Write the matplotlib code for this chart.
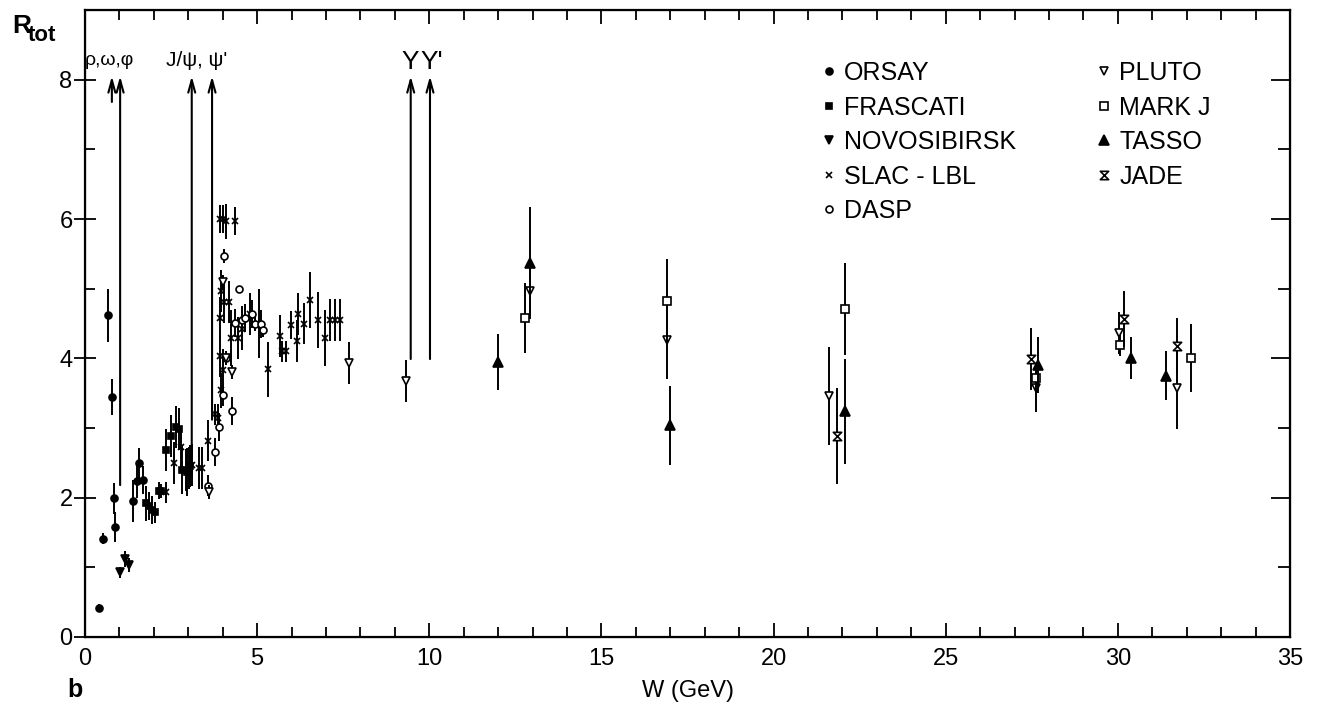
import matplotlib
matplotlib.use("Agg")
import matplotlib.pyplot as plt
from matplotlib import font_manager
from matplotlib.lines import Line2D
from matplotlib.path import Path
from matplotlib.ticker import MultipleLocator

installed = {f.name for f in font_manager.fontManager.ttflist}
plt.rcParams['font.family'] = [f for f in ['Liberation Sans', 'DejaVu Sans'] if f in installed]

# --- data: W (GeV), R, symmetric error ---
orsay_w = [0.41, 0.52, 0.66, 0.79, 0.84, 0.86, 1.38, 1.50, 1.56, 1.67]
orsay_r = [0.42, 1.41, 4.62, 3.44, 1.99, 1.58, 1.95, 2.24, 2.50, 2.25]
orsay_e = [0.05, 0.08, 0.38, 0.26, 0.22, 0.22, 0.30, 0.25, 0.22, 0.20]

frascati_w = [1.76, 1.87, 1.95, 2.03, 2.14, 2.22, 2.34, 2.51, 2.63, 2.72, 2.82, 2.96, 3.06]
frascati_r = [1.92, 1.88, 1.82, 1.79, 2.10, 2.10, 2.68, 2.88, 3.02, 2.99, 2.40, 2.37, 2.45]
frascati_e = [0.25, 0.20, 0.20, 0.15, 0.12, 0.10, 0.30, 0.30, 0.30, 0.30, 0.35, 0.35, 0.30]

novo_w = [1.03, 1.16, 1.29]
novo_r = [0.93, 1.12, 1.04]
novo_e = [0.08, 0.12, 0.10]

slac_w = [2.34, 2.58, 2.80, 2.92, 3.01, 3.11, 3.30, 3.40, 3.57, 3.79, 3.85,
          3.91, 4.00, 4.10, 4.36, 3.91, 3.96, 4.03, 4.17, 3.93, 4.00, 3.96,
          4.25, 4.44, 4.56, 4.80, 5.05, 5.31, 5.65, 5.72, 5.83, 5.98, 6.15,
          6.20, 6.37, 6.53, 6.76, 6.97, 7.11, 7.26, 7.40]
slac_r = [2.08, 2.50, 2.73, 2.40, 2.43, 2.47, 2.43, 2.43, 2.82, 3.20, 3.15,
          6.00, 6.00, 5.97, 5.97, 4.58, 4.97, 4.81, 4.81, 4.03, 3.83, 3.54,
          4.29, 4.29, 4.42, 4.64, 4.50, 3.84, 4.32, 4.10, 4.10, 4.48, 4.25,
          4.64, 4.50, 4.84, 4.55, 4.29, 4.55, 4.55, 4.55]
slac_e = [0.15, 0.30, 0.30, 0.30, 0.30, 0.30, 0.30, 0.30, 0.30, 0.15, 0.20,
          0.20, 0.20, 0.25, 0.20, 0.30, 0.30, 0.30, 0.30, 0.30, 0.30, 0.25,
          0.40, 0.30, 0.30, 0.30, 0.50, 0.40, 0.30, 0.15, 0.15, 0.20, 0.30,
          0.30, 0.30, 0.40, 0.40, 0.40, 0.30, 0.30, 0.30]

dasp_w = [3.57, 3.78, 3.90, 4.00, 4.03, 4.10, 4.27, 4.46, 4.36, 4.55, 4.66,
          4.85, 4.95, 5.10, 5.18]
dasp_r = [2.17, 2.66, 3.02, 3.47, 5.47, 4.00, 3.25, 5.00, 4.51, 4.55, 4.58,
          4.64, 4.49, 4.49, 4.40]
dasp_e = [0.15, 0.20, 0.20, 0.15, 0.10, 0.10, 0.20, 0.00, 0.20, 0.20, 0.20,
          0.20, 0.10, 0.20, 0.10]

pluto_w = [3.59, 4.00, 4.10, 4.27, 7.66, 9.32, 12.93, 16.91, 21.62, 27.61, 30.03, 31.73]
pluto_r = [2.08, 5.10, 4.00, 3.81, 3.93, 3.67, 4.96, 4.26, 3.46, 3.58, 4.36, 3.58]
pluto_e = [0.10, 0.10, 0.10, 0.10, 0.30, 0.30, 0.35, 0.55, 0.70, 0.35, 0.30, 0.60]

markj_w = [12.78, 16.91, 22.06, 27.63, 30.05, 32.12]
markj_r = [4.58, 4.83, 4.71, 3.72, 4.19, 4.01]
markj_e = [0.50, 0.60, 0.66, 0.20, 0.15, 0.49]

tasso_w = [12.00, 12.92, 16.99, 22.06, 27.68, 30.39, 31.41]
tasso_r = [3.95, 5.37, 3.04, 3.24, 3.90, 4.00, 3.75]
tasso_e = [0.40, 0.80, 0.57, 0.75, 0.40, 0.30, 0.35]

jade_w = [21.85, 27.47, 30.17, 31.73]
jade_r = [2.89, 3.99, 4.56, 4.18]
jade_e = [0.69, 0.45, 0.40, 0.40]

# resonance arrows: position, lower end of arrow
res_w = [0.78, 1.02, 3.10, 3.69, 9.46, 10.02]
res_low = [7.68, 2.18, 2.30, 3.12, 3.99, 3.99]
res_tip = 8.05

hourglass = Path([(-1, 1), (1, 1), (-1, -1), (1, -1), (-1, 1)],
                 [Path.MOVETO, Path.LINETO, Path.LINETO, Path.LINETO, Path.CLOSEPOLY])

series = [
    ('ORSAY', orsay_w, orsay_r, orsay_e, 'o', 'black', 5),
    ('FRASCATI', frascati_w, frascati_r, frascati_e, 's', 'black', 5),
    ('NOVOSIBIRSK', novo_w, novo_r, novo_e, 'v', 'black', 6),
    ('SLAC - LBL', slac_w, slac_r, slac_e, 'x', 'black', 5),
    ('DASP', dasp_w, dasp_r, dasp_e, 'o', 'white', 5),
    ('PLUTO', pluto_w, pluto_r, pluto_e, 'v', 'white', 6),
    ('MARK J', markj_w, markj_r, markj_e, 's', 'white', 5.5),
    ('TASSO', tasso_w, tasso_r, tasso_e, '^', 'black', 6.5),
    ('JADE', jade_w, jade_r, jade_e, hourglass, 'white', 6),
]

fig = plt.figure(figsize=(13.2, 7.11), dpi=100)
ax = fig.add_axes([0.0644, 0.1041, 0.9129, 0.8818])

handles = []
for name, w, r, e, mk, fc, ms in series:
    ax.errorbar(w, r, yerr=e, fmt='none', ecolor='black', elinewidth=1.4, capsize=0)
    ax.plot(w, r, linestyle='none', marker=mk, ms=ms, mfc=fc, mec='black', mew=1.2)
    handles.append(Line2D([], [], linestyle='none', marker=mk, ms=ms, mfc=fc,
                          mec='black', mew=1.2, label=name))

for w, lo in zip(res_w, res_low):
    ax.annotate('', xy=(w, res_tip), xytext=(w, lo),
                arrowprops=dict(arrowstyle='->,head_length=0.9,head_width=0.25',
                                lw=1.5, color='black', shrinkA=0, shrinkB=0))

ax.text(0.72, 8.28, 'ρ,ω,φ', ha='center', va='center', fontsize=14)
ax.text(3.23, 8.28, "J/ψ, ψ'", ha='center', va='center', fontsize=15)
ax.text(9.46, 8.26, 'Υ', ha='center', va='center', fontsize=19)
ax.text(10.07, 8.26, "Υ'", ha='center', va='center', fontsize=19)

ax.set_xlim(0, 35)
ax.set_ylim(0, 9.0)
ax.xaxis.set_major_locator(MultipleLocator(5))
ax.xaxis.set_minor_locator(MultipleLocator(1))
ax.yaxis.set_major_locator(MultipleLocator(2))
ax.yaxis.set_minor_locator(MultipleLocator(1))
ax.tick_params(axis='x', which='both', direction='in', top=True, labelsize=17, pad=8, width=1.3)
ax.tick_params(axis='x', which='major', length=10)
ax.tick_params(axis='x', which='minor', length=7)
ax.tick_params(axis='y', which='major', direction='inout', length=16, labelsize=17, pad=1, width=1.3)
ax.tick_params(axis='y', which='minor', direction='in', length=7, width=1.3)
for s in ax.spines.values():
    s.set_linewidth(1.6)

ax2 = ax.twinx()
ax2.set_ylim(ax.get_ylim())
ax2.yaxis.set_major_locator(MultipleLocator(2))
ax2.yaxis.set_minor_locator(MultipleLocator(1))
ax2.tick_params(axis='y', which='major', direction='in', length=14, width=1.3, labelright=False)
ax2.tick_params(axis='y', which='minor', direction='in', length=9, width=1.3)

ax.legend(handles=handles, ncol=2, loc='upper left', bbox_to_anchor=(0.622, 0.914),
          bbox_transform=fig.transFigure, frameon=False, fontsize=18,
          handlelength=0.6, handletextpad=0.3, columnspacing=3.25,
          labelspacing=0.42, borderpad=0, borderaxespad=0)

fig.text(12 / 1320, 1 - 33 / 711, 'R', fontsize=19, fontweight='bold', ha='left', va='baseline')
fig.text(28 / 1320, 1 - 41 / 711, 'tot', fontsize=16, fontweight='bold', ha='left', va='baseline')
fig.text(67 / 1320, 1 - 697 / 711, 'b', fontsize=18, fontweight='bold', ha='left', va='baseline')
fig.text(688 / 1320, 1 - 697 / 711, 'W (GeV)', fontsize=17, ha='center', va='baseline')

fig.savefig('out.png', dpi=100)
